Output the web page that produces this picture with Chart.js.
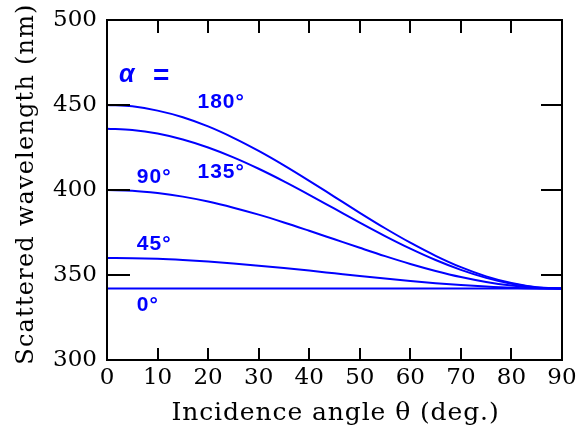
<!DOCTYPE html>
<html>
<head>
<meta charset="utf-8">
<script src="https://cdn.jsdelivr.net/npm/chart.js@4.4.1/dist/chart.umd.min.js"></script>
<style>
html,body{margin:0;padding:0;background:#fff;}
#caja{width:577px;height:429px;}
</style>
</head>
<body>
<div id="caja"><canvas id="grafico" width="577" height="429"></canvas></div>
<script>
/* ============================= */
/* DATOS */
/* ============================= */

// angulo de incidencia theta (grados)
const angulos = [0,5,10,15,20,25,30,35,40,45,50,55,60,65,70,75,80,85,90];

// longitud de onda dispersada (nm) para cada alfa
const alfa0   = [342,342,342,342,342,342,342,342,342,342,342,342,342,342,342,342,342,342,342];
const alfa45  = [360,359.9,359.5,358.8,357.9,356.8,355.5,354.1,352.6,351,349.4,347.9,346.5,345.2,344.1,343.2,342.5,342.1,342];
const alfa90  = [400,399.6,398.2,396.1,393.2,389.6,385.5,380.9,376,371,366,361.1,356.5,352.4,348.8,345.9,343.8,342.4,342];
const alfa135 = [436,435.3,433.2,429.7,425,419.2,412.5,405.1,397.2,389,380.8,372.9,365.5,358.8,353,348.3,344.8,342.7,342];
const alfa180 = [450,449.2,446.7,442.8,437.4,430.7,423,414.5,405.4,396,386.6,377.5,369,361.3,354.6,349.2,345.3,342.8,342];

const ticksX = [0,10,20,30,40,50,60,70,80,90];
const ticksY = [300,350,400,450,500];

// etiquetas azules: texto, theta, lambda
const etiquetasTexto  = ["180°","135°","90°","45°","0°"];
const etiquetasTheta  = [17.9,17.9,5.9,5.9,5.9];
const etiquetasLambda = [451.8,410.3,407.6,368.2,332.4];

const tituloX = "Incidence angle θ (deg.)";
const tituloY = "Scattered wavelength (nm)";

const AZUL = "#0000ff";

function serie(valores){
return angulos.map((a,i)=>({x:a, y:valores[i]}));
}

/* ============================= */
/* PLUGIN MARCO Y ETIQUETAS */
/* ============================= */

const marco = {
id:"marco",
afterDraw(chart){
const ctx = chart.ctx;
const a = chart.chartArea;
const sx = chart.scales.x;
const sy = chart.scales.y;

ctx.save();
ctx.strokeStyle = "#000";
ctx.lineWidth = 2;

// ticks hacia adentro
ctx.beginPath();
ticksX.forEach(v=>{
let px = Math.round(sx.getPixelForValue(v));
ctx.moveTo(px, a.bottom); ctx.lineTo(px, a.bottom-12);
ctx.moveTo(px, a.top); ctx.lineTo(px, a.top+13);
});
ticksY.forEach(v=>{
let py = Math.round(sy.getPixelForValue(v));
ctx.moveTo(a.left, py); ctx.lineTo(a.left+23, py);
ctx.moveTo(a.right, py); ctx.lineTo(a.right-21, py);
});
ctx.stroke();

// marco
ctx.strokeRect(a.left, a.top, a.right-a.left, a.bottom-a.top);

// titulos de ejes
ctx.fillStyle = "#000";
ctx.textAlign = "center";
ctx.textBaseline = "alphabetic";
ctx.font = "25px 'DejaVu Serif'";
ctx.letterSpacing = "0.9px";
ctx.fillText(tituloX, (a.left+a.right)/2 + 1, 420);

ctx.save();
ctx.translate(33, 184);
ctx.rotate(-Math.PI/2);
ctx.font = "24px 'DejaVu Serif'";
ctx.letterSpacing = "1.2px";
ctx.fillText(tituloY, 0, 0);
ctx.restore();

// etiquetas de alfa
ctx.fillStyle = AZUL;
ctx.textAlign = "left";
ctx.textBaseline = "middle";
ctx.letterSpacing = "1px";
ctx.font = "bold 21px 'Liberation Sans'";
etiquetasTexto.forEach((t,i)=>{
ctx.fillText(t, sx.getPixelForValue(etiquetasTheta[i]), sy.getPixelForValue(etiquetasLambda[i]));
});

ctx.letterSpacing = "0px";
ctx.font = "bold italic 25px 'Liberation Sans'";
ctx.fillText("α", 119, 75);
ctx.font = "bold 28px 'Liberation Sans'";
ctx.fillText("=", 153, 76);

ctx.restore();
}
};

/* ============================= */
/* GRAFICO */
/* ============================= */

function conjunto(valores){
return {
data:serie(valores),
borderColor:AZUL,
borderWidth:2,
pointRadius:0,
fill:false,
cubicInterpolationMode:"monotone"
};
}

const fuente = {family:"'DejaVu Serif'", size:23};

new Chart(document.getElementById("grafico"), {
type:"line",
data:{
datasets:[
conjunto(alfa0),
conjunto(alfa45),
conjunto(alfa90),
conjunto(alfa135),
conjunto(alfa180)
]
},
options:{
responsive:false,
animation:false,
layout:{padding:{left:0, top:20, right:15, bottom:0}},
plugins:{legend:{display:false}, tooltip:{enabled:false}},
scales:{
x:{
type:"linear",
min:0, max:90,
afterBuildTicks(s){ s.ticks = ticksX.map(v=>({value:v})); },
afterFit(s){ s.height = 69; s.paddingLeft = 0; s.paddingRight = 0; },
grid:{display:false, drawTicks:false},
border:{display:false},
ticks:{color:"#000", font:fuente, padding:4, maxRotation:0, autoSkip:false}
},
y:{
min:300, max:500,
afterBuildTicks(s){ s.ticks = ticksY.map(v=>({value:v})); },
afterFit(s){ s.width = 107; s.paddingTop = 0; s.paddingBottom = 0; },
grid:{display:false, drawTicks:false},
border:{display:false},
ticks:{color:"#000", font:fuente, padding:10}
}
}
},
plugins:[marco]
});
</script>
</body>
</html>
